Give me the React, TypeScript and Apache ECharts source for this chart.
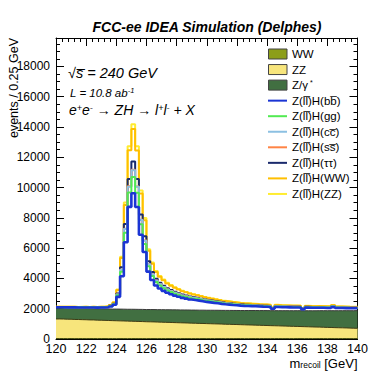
import React, { useEffect, useRef } from "react";
import * as echarts from "echarts";

const X_MIN = 120;
const X_MAX = 140;
const BIN_W = 0.25;
const Y_MAX = 19880;

// Backgrounds (events / bin)
const BKG_WW = [25,26,24,27,23,25,26,24,25,27,24,25,26,23,25,24,26,25,24,25,
  26,24,25,23,25,26,24,25,24,26,25,23,24,26,25,24,25,23,26,24,
  25,24,26,25,23,25,24,26,25,24,23,25,26,24,25,24,23,25,26,24,
  25,24,23,26,25,24,25,23,24,26,25,24,25,23,24,25,26,24,23,25];
const BKG_ZZ = [1300,1292,1284,1279,1268,1262,1252,1248,1236,1231,
  1222,1214,1205,1199,1188,1182,1172,1166,1157,1150,
  1141,1135,1126,1117,1110,1103,1094,1087,1078,1071,
  1062,1056,1047,1039,1031,1024,1016,1007,1000,992,
  984,977,969,961,952,946,937,929,921,914,
  906,898,890,883,874,867,859,851,843,836,
  828,820,813,805,797,790,781,774,766,759,
  751,743,736,728,720,713,705,697,690,682];
const BKG_ZG = [715,722,718,728,731,735,742,738,748,745,
  753,757,760,766,764,772,776,780,783,789,
  794,797,803,805,812,815,820,826,829,834,
  838,845,848,852,860,863,869,874,880,884,
  891,897,902,906,915,918,925,930,936,942,
  954,958,966,970,979,984,990,996,1003,1008,
  1017,1024,1030,1038,1046,1052,1060,1066,1074,1085,
  1094,1100,1108,1116,1124,1131,1140,1147,1156,1168];

// Signal Z(ll)H(XX) (events / bin)
const SIG_BB = [60,55,65,60,70,60,65,75,70,80,75,85,90,110,170,280,810,2170,4430,6760,
  7670,6760,4930,3800,2500,1950,1600,1400,1250,1120,1030,940,870,800,750,700,660,630,590,550,
  520,490,460,430,400,380,360,340,320,310,300,290,280,270,260,255,245,130,240,230,
  225,220,215,215,210,110,205,200,195,195,190,185,185,240,180,175,170,165,160,155];
const SIG_GG = [8,8,9,8,10,8,9,11,10,11,11,12,13,15,24,39,113,304,620,946,
  1074,946,690,532,350,273,224,196,175,157,144,132,122,112,105,98,92,88,83,77,
  73,69,64,60,56,53,50,48,45,43,42,41,39,38,36,36,34,18,34,32,
  32,31,30,30,29,15,29,28,27,27,27,26,26,34,25,25,24,23,22,22];
const SIG_CC = [3,3,4,3,4,3,4,4,4,5,4,5,5,6,10,16,47,126,257,392,
  445,392,286,220,145,113,93,81,73,65,60,55,50,46,44,41,38,37,34,32,
  30,28,27,25,23,22,21,20,19,18,17,17,16,16,15,15,14,8,14,13,
  13,13,12,12,12,6,12,12,11,11,11,11,11,14,10,10,10,10,9,9];
const SIG_SS = [0,0,0,0,0,0,0,0,0,0,0,0,0,0,0,1,2,7,13,20,
  23,20,15,11,8,6,5,4,4,3,3,3,3,2,2,2,2,2,2,2,
  2,1,1,1,1,1,1,1,1,1,1,1,1,1,1,1,1,0,1,1,
  1,1,1,1,1,0,1,1,1,1,1,1,1,1,1,1,1,1,1,1];
const SIG_TT = [4,4,5,4,5,4,5,5,5,6,5,6,6,8,12,20,58,156,319,487,
  552,487,355,274,180,140,115,101,90,81,74,68,63,58,54,50,48,45,42,40,
  37,35,33,31,29,27,26,24,23,22,22,21,20,19,19,18,18,9,17,17,
  16,16,15,15,15,8,15,14,14,14,14,13,13,17,13,13,12,12,12,11];
const SIG_WW = [17,15,18,17,20,17,18,21,20,22,21,24,25,31,48,78,227,608,1240,1893,
  2148,1893,1380,1064,700,546,448,392,350,314,288,263,244,224,210,196,185,176,165,154,
  146,137,129,120,112,106,101,95,90,87,84,81,78,76,73,71,69,36,67,64,
  63,62,60,60,59,31,57,56,55,55,53,52,52,67,50,49,48,46,45,43];
const SIG_ZZ = [2,2,3,2,3,2,3,3,3,3,3,3,4,4,7,11,32,87,177,270,
  307,270,197,152,100,78,64,56,50,45,41,38,35,32,30,28,26,25,24,22,
  21,20,18,17,16,15,14,14,13,12,12,12,11,11,10,10,10,5,10,9,
  9,9,9,9,8,4,8,8,8,8,8,7,7,10,7,7,7,7,6,6];

const FONT = "'Liberation Sans', Arial, Helvetica, sans-serif";

// stacking order bottom -> top
const BKG = [
  { name: "WW", data: BKG_WW, fill: "#8c9e1a", stroke: "#3b4410" },
  { name: "ZZ", data: BKG_ZZ, fill: "#f7e57c", stroke: "#3d3a14" },
  { name: "Z/γ*", data: BKG_ZG, fill: "#416f41", stroke: "#3a3a3a" },
];
const SIG = [
  { name: "Z(ll̅)H(bb̅)", data: SIG_BB, color: "#1b35d4", width: 2.6 },
  { name: "Z(ll̅)H(gg)", data: SIG_GG, color: "#52ea52", width: 2 },
  { name: "Z(ll̅)H(cc̅)", data: SIG_CC, color: "#8cc0e2", width: 2 },
  { name: "Z(ll̅)H(ss̅)", data: SIG_SS, color: "#ff8445", width: 2 },
  { name: "Z(ll̅)H(ττ)", data: SIG_TT, color: "#1a2a6c", width: 2 },
  { name: "Z(ll̅)H(WW)", data: SIG_WW, color: "#ffbf00", width: 2 },
  { name: "Z(ll̅)H(ZZ)", data: SIG_ZZ, color: "#ffec30", width: 2 },
];

function toSteps(vals: number[]) {
  const pts = vals.map((v, i) => [X_MIN + i * BIN_W, v]);
  pts.push([X_MAX, vals[vals.length - 1]]);
  return pts;
}

function buildOption() {
  // cumulative sums (THStack)
  const all = [...BKG.map((b) => b.data), ...SIG.map((s) => s.data)];
  const cum: number[][] = [];
  let run = new Array(all[0].length).fill(0);
  all.forEach((arr) => {
    run = run.map((v, i) => v + arr[i]);
    cum.push(run.slice());
  });

  const series: any[] = [];
  BKG.forEach((b, i) => {
    series.push({
      type: "line",
      name: b.name,
      step: "end",
      symbol: "none",
      data: toSteps(cum[i]),
      lineStyle: { color: b.stroke, width: 1 },
      areaStyle: { color: b.fill, opacity: 1, origin: "start" },
      z: 5 - i,
      silent: true,
    });
  });
  SIG.forEach((s, j) => {
    series.push({
      type: "line",
      name: s.name,
      step: "end",
      symbol: "none",
      data: toSteps(cum[BKG.length + j]),
      lineStyle: { color: s.color, width: s.width },
      z: 20 - j,
      silent: true,
    });
  });

  const axisCommon = {
    type: "value",
    axisLine: { show: true, onZero: false, lineStyle: { color: "#000", width: 1 } },
    axisTick: { show: true, inside: true, length: 8, lineStyle: { color: "#000" } },
    splitLine: { show: false },
  };

  const legendRows: any[] = [];
  const items = [
    ...BKG.map((b) => ({ kind: "box", label: b.name, color: b.fill })),
    ...SIG.map((s) => ({ kind: "line", label: s.name, color: s.color })),
  ];
  items.forEach((it, i) => {
    const y = 54 + i * 15.55;
    if (it.kind === "box") {
      legendRows.push({
        type: "rect",
        shape: { x: 268.5, y: y - 5, width: 18.5, height: 10 },
        style: { fill: it.color, stroke: "#444", lineWidth: 1 },
      });
    } else {
      legendRows.push({
        type: "line",
        shape: { x1: 268, y1: y, x2: 287, y2: y },
        style: { stroke: it.color, lineWidth: 2 },
      });
    }
    const isZg = it.label === "Z/γ*";
    legendRows.push({
      type: "text",
      x: 292,
      y: y,
      style: {
        text: isZg ? "Z/γ{s|*}" : it.label,
        fontSize: 11.5,
        fontFamily: FONT,
        fill: "#000",
        align: "left",
        verticalAlign: "middle",
        rich: { s: { fontSize: 7, verticalAlign: "top", fontFamily: FONT, padding: [0, 0, 0, 2] } },
      },
    });
  });

  const graphic: any[] = [
    {
      type: "text",
      x: 207,
      y: 27,
      style: {
        text: "FCC-ee IDEA Simulation (Delphes)",
        fontSize: 14,
        fontWeight: "bold",
        fontStyle: "italic",
        fontFamily: FONT,
        fill: "#000",
        align: "center",
        verticalAlign: "middle",
      },
    },
    {
      type: "text",
      x: 13.5,
      y: 38,
      rotation: Math.PI / 2,
      style: {
        text: "events / 0.25 GeV",
        fontSize: 12.5,
        fontFamily: FONT,
        fill: "#000",
        align: "right",
        verticalAlign: "middle",
      },
    },
    {
      type: "text",
      x: 357.5,
      y: 363,
      style: {
        text: "m{sub|recoil} [GeV]",
        fontSize: 13,
        fontFamily: FONT,
        fill: "#000",
        align: "right",
        verticalAlign: "middle",
        rich: { sub: { fontSize: 8.5, fontFamily: FONT, verticalAlign: "bottom" } },
      },
    },
    {
      type: "text",
      x: 68,
      y: 73,
      style: {
        text: "√s̅ = 240 GeV",
        fontSize: 14.5,
        fontStyle: "italic",
        fontFamily: FONT,
        fill: "#000",
        align: "left",
        verticalAlign: "middle",
      },
    },
    {
      type: "text",
      x: 70,
      y: 92.5,
      style: {
        text: "L = 10.8 ab{sup|-1}",
        fontSize: 11.5,
        fontStyle: "italic",
        fontFamily: FONT,
        fill: "#000",
        align: "left",
        verticalAlign: "middle",
        rich: { sup: { fontSize: 7.5, fontStyle: "italic", fontFamily: FONT, verticalAlign: "top" } },
      },
    },
    {
      type: "text",
      x: 69,
      y: 110,
      style: {
        text: "e{sup|+}e{sup|-} → ZH → l{sup|+}l{sup|-} + X",
        fontSize: 14,
        fontStyle: "italic",
        fontFamily: FONT,
        fill: "#000",
        align: "left",
        verticalAlign: "middle",
        rich: { sup: { fontSize: 9, fontStyle: "italic", fontFamily: FONT, verticalAlign: "top" } },
      },
    },
    ...legendRows,
  ];

  return {
    animation: false,
    backgroundColor: "#fff",
    grid: { left: 56, right: 31.5, top: 38, bottom: 38, containLabel: false, outerBoundsMode: "none" },
    xAxis: [
      {
        ...axisCommon,
        min: X_MIN,
        max: X_MAX,
        interval: 2,
        position: "bottom",
        minorTick: { show: true, splitNumber: 5, length: 4, lineStyle: { color: "#000" } },
        axisLabel: { color: "#000", fontSize: 12.5, fontFamily: FONT, margin: 3 },
      },
      {
        ...axisCommon,
        min: X_MIN,
        max: X_MAX,
        interval: 2,
        position: "top",
        minorTick: { show: true, splitNumber: 5, length: 4, lineStyle: { color: "#000" } },
        axisLabel: { show: false },
      },
    ],
    yAxis: [
      {
        ...axisCommon,
        min: 0,
        max: Y_MAX,
        interval: 2000,
        position: "left",
        minorTick: { show: true, splitNumber: 4, length: 4, lineStyle: { color: "#000" } },
        axisLabel: {
          color: "#000",
          fontSize: 12,
          fontFamily: FONT,
          margin: 6,
          showMaxLabel: false,
          formatter: (v: number) => (v % 2000 === 0 ? String(v) : ""),
        },
      },
      {
        ...axisCommon,
        min: 0,
        max: Y_MAX,
        interval: 2000,
        position: "right",
        minorTick: { show: true, splitNumber: 4, length: 4, lineStyle: { color: "#000" } },
        axisLabel: { show: false },
      },
    ],
    series,
    graphic,
  };
}

export default function App() {
  const ref = useRef<HTMLDivElement>(null);
  useEffect(() => {
    if (!ref.current) return;
    const chart = echarts.init(ref.current, null, { renderer: "svg" });
    chart.setOption(buildOption() as any);
    return () => chart.dispose();
  }, []);
  return (
    <div
      ref={ref}
      style={{ position: "fixed", left: 0, top: 0, width: 389, height: 377, background: "#fff" }}
    />
  );
}
